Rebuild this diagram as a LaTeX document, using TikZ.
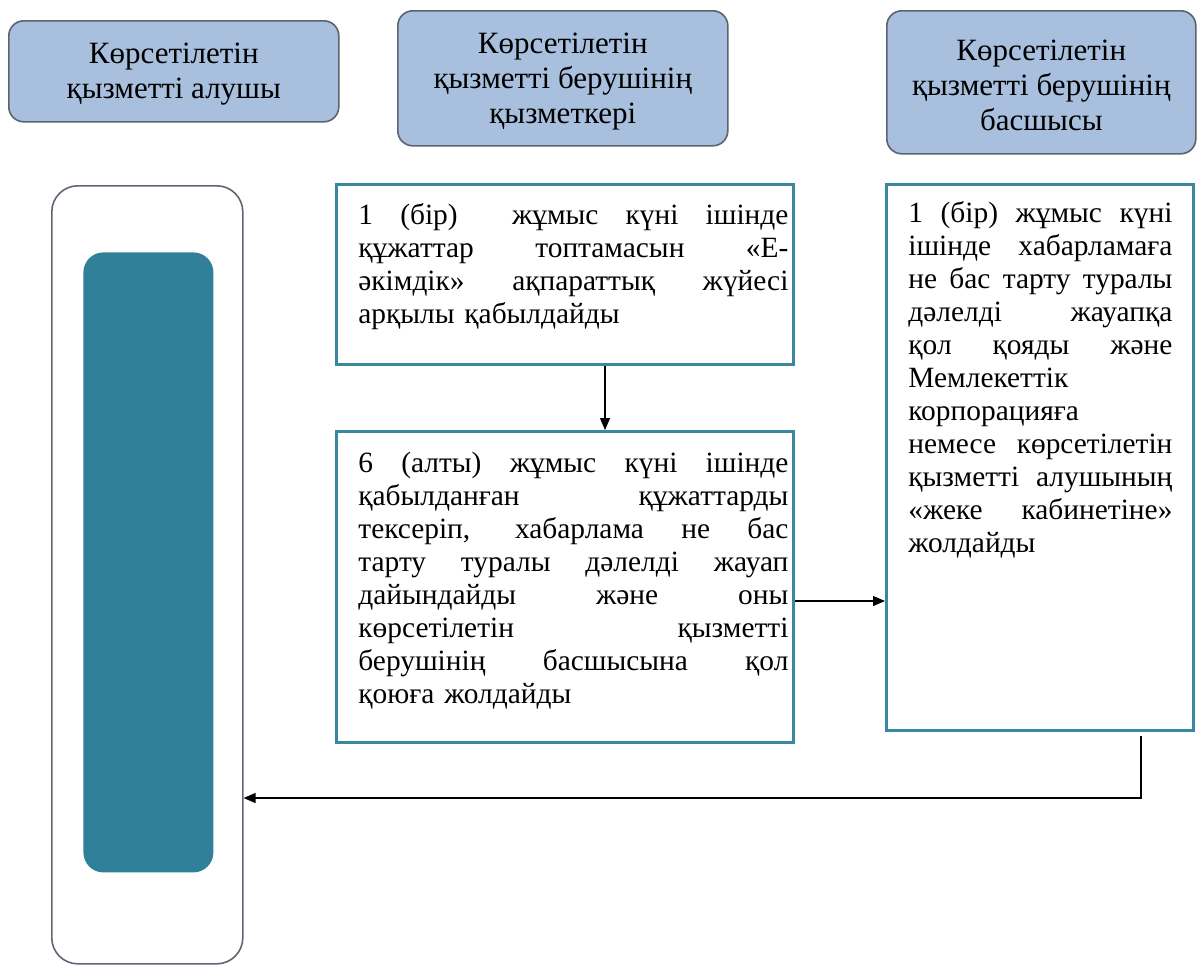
\documentclass[tikz,border=0pt]{standalone}
\usepackage{fontspec}
\setmainfont{Liberation Serif}
\usetikzlibrary{arrows.meta,calc}
\definecolor{hdrfill}{HTML}{A8BFDD}
\definecolor{hdrdraw}{HTML}{5B6470}
\definecolor{boxdraw}{HTML}{3A87A0}
\definecolor{tealfill}{HTML}{31809A}
\definecolor{outerdraw}{HTML}{5F6673}
\newcommand{\jl}[2]{\leavevmode\hbox to #1{\spaceskip=0.25em plus 1fil\relax #2}\\}
\begin{document}
\begin{tikzpicture}[x=0.5pt,y=-0.5pt,
  hdr/.style={draw=hdrdraw, line width=0.8pt, fill=hdrfill, rounded corners=7.5pt,
    anchor=north west, align=center, inner sep=0pt,
    font=\fontsize{15.5pt}{17.5pt}\selectfont},
  stepbox/.style={draw=boxdraw, line width=1.5pt, anchor=north west, inner sep=0pt},
  steptext/.style={anchor=north west, inner sep=0pt,
    font=\fontsize{14.7pt}{16.5pt}\selectfont},
  arr/.style={line width=0.65pt, -{Triangle[length=6pt,width=5pt]}}]

\useasboundingbox (0,0) rectangle (1203,971);

% headers
\node[hdr, minimum width=165pt, minimum height=50.5pt] (h1) at (8,20)
  {\rule{0pt}{13pt}Көрсетілетін\\қызметті алушы};
\node[hdr, minimum width=165pt, minimum height=67.5pt] (h2) at (397,10)
  {\rule{0pt}{13pt}Көрсетілетін\\қызметті берушінің\\қызметкері};
\node[hdr, minimum width=154.5pt, minimum height=71.5pt] (h3) at (886,10)
  {\rule{0pt}{13pt}Көрсетілетін\\қызметті берушінің\\басшысы};

% left lane
\node[draw=outerdraw, line width=0.8pt, rounded corners=13pt, anchor=north west,
  inner sep=0pt, minimum width=95.5pt, minimum height=389pt] (outer) at (51,185) {};
\node[fill=tealfill, rounded corners=10pt, anchor=north west, inner sep=0pt,
  minimum width=65pt, minimum height=310pt] (inner) at (83,252) {};

% step boxes
\node[stepbox, minimum width=228.5pt, minimum height=90pt] (b1) at (335,183) {};
\node[stepbox, minimum width=228.5pt, minimum height=155.5pt] (b2) at (335,430) {};
\node[stepbox, minimum width=153.5pt, minimum height=273pt] (b3) at (885,183) {};

\node[steptext, text width=215pt] (t1) at (358,201) {\strut
  \jl{215pt}{1 (бір) \ жұмыс күні ішінде}
  \jl{215pt}{құжаттар топтамасын «Е-}
  \jl{215pt}{әкімдік» ақпараттық жүйесі}
  арқылы қабылдайды};

\node[steptext, text width=215pt] (t2) at (358,449) {\strut
  \jl{215pt}{6 (алты) жұмыс күні ішінде}
  \jl{215pt}{қабылданған құжаттарды}
  \jl{215pt}{тексеріп, хабарлама не бас}
  \jl{215pt}{тарту туралы дәлелді жауап}
  \jl{215pt}{дайындайды және оны}
  \jl{215pt}{көрсетілетін қызметті}
  \jl{215pt}{берушінің басшысына қол}
  қоюға жолдайды};

\node[steptext, text width=132pt] (t3) at (908,199) {\strut
  \jl{132pt}{1 (бір) жұмыс күні}
  \jl{132pt}{ішінде хабарламаға}
  \jl{132pt}{не бас тарту туралы}
  \jl{132pt}{дәлелді жауапқа}
  \jl{132pt}{қол қояды және}
  Мемлекеттік\\
  корпорацияға\\
  \jl{132pt}{немесе көрсетілетін}
  \jl{132pt}{қызметті алушының}
  \jl{132pt}{«жеке кабинетіне»}
  жолдайды};

% connectors
\coordinate (c1) at (605,0);
\coordinate (c2) at (0,601);
\coordinate (c3) at (0,798);
\coordinate (r0) at (1141,736);
\draw[arr] (b1.south -| c1) -- (b2.north -| c1);
\draw[arr] (b2.east |- c2) -- (b3.west |- c2);
\draw[arr] (r0) |- (outer.east |- c3);
\end{tikzpicture}
\end{document}
